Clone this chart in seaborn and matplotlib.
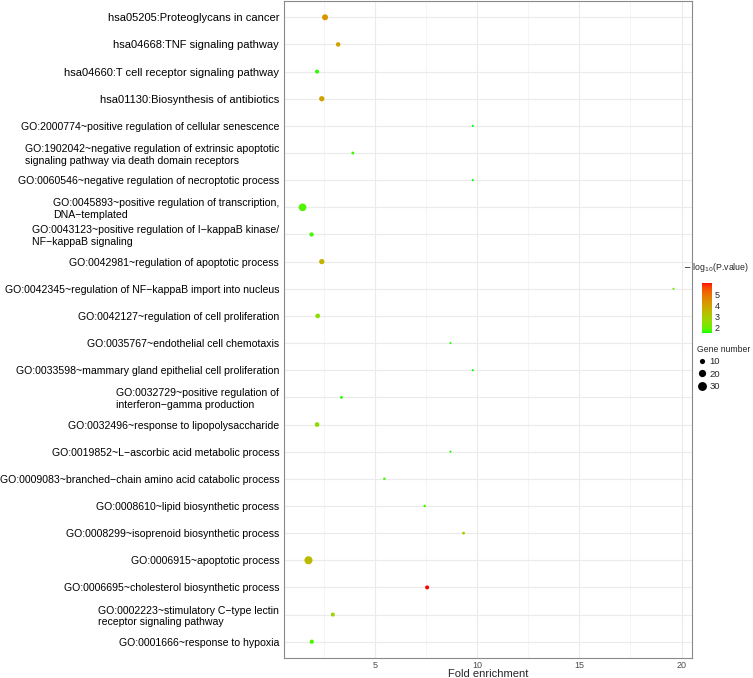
import numpy as np
import pandas as pd
import matplotlib
matplotlib.use("Agg")
import matplotlib.pyplot as plt
import seaborn as sns
from matplotlib.colors import ListedColormap, Normalize
from matplotlib.cm import ScalarMappable
from matplotlib.lines import Line2D

M = "\u2212"
terms = [
    "hsa05205:Proteoglycans in cancer",
    "hsa04668:TNF signaling pathway",
    "hsa04660:T cell receptor signaling pathway",
    "hsa01130:Biosynthesis of antibiotics",
    "GO:2000774~positive regulation of cellular senescence",
    "GO:1902042~negative regulation of extrinsic apoptotic\nsignaling pathway via death domain receptors",
    "GO:0060546~negative regulation of necroptotic process",
    "GO:0045893~positive regulation of transcription,\nDNA" + M + "templated",
    "GO:0043123~positive regulation of I" + M + "kappaB kinase/\nNF" + M + "kappaB signaling",
    "GO:0042981~regulation of apoptotic process",
    "GO:0042345~regulation of NF" + M + "kappaB import into nucleus",
    "GO:0042127~regulation of cell proliferation",
    "GO:0035767~endothelial cell chemotaxis",
    "GO:0033598~mammary gland epithelial cell proliferation",
    "GO:0032729~positive regulation of\ninterferon" + M + "gamma production",
    "GO:0032496~response to lipopolysaccharide",
    "GO:0019852~L" + M + "ascorbic acid metabolic process",
    "GO:0009083~branched" + M + "chain amino acid catabolic process",
    "GO:0008610~lipid biosynthetic process",
    "GO:0008299~isoprenoid biosynthetic process",
    "GO:0006915~apoptotic process",
    "GO:0006695~cholesterol biosynthetic process",
    "GO:0002223~stimulatory C" + M + "type lectin\nreceptor signaling pathway",
    "GO:0001666~response to hypoxia",
]
fold_enrichment = [2.57, 3.21, 2.18, 2.41, 9.79, 3.93, 9.79, 1.47, 1.91, 2.41, 19.6, 2.21,
                   8.70, 9.79, 3.37, 2.18, 8.70, 5.47, 7.44, 9.34, 1.76, 7.56, 2.95, 1.92]
neg_log10_p = [4.3, 4.0, 1.55, 4.0, 1.45, 1.6, 1.45, 1.75, 1.65, 3.6, 2.0, 2.45,
               1.5, 1.45, 1.55, 2.4, 1.5, 1.6, 1.65, 2.9, 3.4, 6.1, 2.7, 1.7]
gene_count = [18, 10, 8, 14, 2, 4, 2, 30, 9, 14, 2, 11,
              2, 2, 4, 11, 2, 3, 3, 4, 33, 8, 8, 9]
size_breaks = [10, 20, 30]
cbar_ticks = [2, 3, 4, 5]

df = pd.DataFrame({"term": terms, "fold": fold_enrichment,
                   "p": neg_log10_p, "count": gene_count})


# green -> red gradient interpolated in Lab space (like ggplot)
def srgb_to_lab(rgb):
    rgb = np.asarray(rgb, float)
    lin = np.where(rgb <= 0.04045, rgb / 12.92, ((rgb + 0.055) / 1.055) ** 2.4)
    mat = np.array([[0.4124, 0.3576, 0.1805], [0.2126, 0.7152, 0.0722], [0.0193, 0.1192, 0.9505]])
    xyz = mat @ lin / np.array([0.95047, 1.0, 1.08883])
    f = np.where(xyz > 0.008856, np.cbrt(xyz), 7.787 * xyz + 16 / 116)
    return np.array([116 * f[1] - 16, 500 * (f[0] - f[1]), 200 * (f[1] - f[2])])


def lab_to_srgb(lab):
    L, a, b = lab
    fy = (L + 16) / 116
    f = np.array([fy + a / 500, fy, fy - b / 200])
    xyz = np.where(f ** 3 > 0.008856, f ** 3, (f - 16 / 116) / 7.787) * np.array([0.95047, 1.0, 1.08883])
    inv = np.array([[3.2406, -1.5372, -0.4986], [-0.9689, 1.8758, 0.0415], [0.0557, -0.2040, 1.0570]])
    lin = np.clip(inv @ xyz, 0, 1)
    return np.clip(np.where(lin <= 0.0031308, 12.92 * lin, 1.055 * lin ** (1 / 2.4) - 0.055), 0, 1)


lo_lab, hi_lab = srgb_to_lab([0, 1, 0]), srgb_to_lab([1, 0, 0])
cmap = ListedColormap([lab_to_srgb(lo_lab + t * (hi_lab - lo_lab)) for t in np.linspace(0, 1, 256)])
norm = Normalize(min(neg_log10_p), max(neg_log10_p))

sns.set_style("white")
plt.rcParams["font.family"] = ["Liberation Sans", "DejaVu Sans"]

fig = plt.figure(figsize=(7.53, 6.78), dpi=100)
ax = fig.add_axes([284 / 753, 20 / 678, 408 / 753, 657 / 678])

size_rng = (2.3, 34)
sns.scatterplot(data=df, x="fold", y="term", hue="p", palette=cmap, hue_norm=norm,
                size="count", sizes=size_rng, linewidth=0, legend=False, ax=ax, zorder=3)

n = len(terms)
ax.set_ylim(n - 1 + 0.6, -0.6)
span = max(fold_enrichment) - min(fold_enrichment)
ax.set_xlim(min(fold_enrichment) - 0.05 * span, max(fold_enrichment) + 0.05 * span)
ax.set_xticks([5, 10, 15, 20])
ax.set_xticks([2.5, 7.5, 12.5, 17.5], minor=True)
ax.set_yticks(range(n), labels=terms)
for lab in ax.get_yticklabels():
    lab.set_multialignment("left")
    lab.set_verticalalignment("center_baseline")
    lab.set_fontsize(8.0 if lab.get_text().startswith("hsa") else 7.6)
    lab.set_color("black")

ax.grid(True, which="major", color="#ebebeb", lw=0.8, zorder=0)
ax.grid(True, which="minor", axis="x", color="#f2f2f2", lw=0.5, zorder=0)
ax.set_axisbelow(True)
for s in ax.spines.values():
    s.set_color("#8a8a8a")
    s.set_linewidth(0.8)
ax.tick_params(axis="y", which="major", length=2, width=0.6, color="#8a8a8a", pad=1.5)
ax.tick_params(axis="x", which="major", length=1.5, width=0.6, color="#8a8a8a", pad=0.5,
               labelsize=6.5, labelcolor="#4d4d4d")
ax.tick_params(axis="x", which="minor", length=0)
ax.set_xlabel("Fold enrichment", fontsize=8, labelpad=-0.8)
ax.set_ylabel("")

# colour bar legend
cax = fig.add_axes([702 / 753, 1 - 333 / 678, 10 / 753, 50 / 678])
cb = fig.colorbar(ScalarMappable(norm=norm, cmap=cmap), cax=cax, ticks=cbar_ticks)
cb.outline.set_visible(False)
cax.tick_params(labelsize=6.5, length=2, color="white", pad=2, direction="in")
fig.text(683 / 753, 1 - 268 / 678, r"$-$ log$_{10}$(P.value)", fontsize=6.3, va="center", ha="left")

# gene number legend
cmin, cmax = min(gene_count), max(gene_count)
handles = []
for v in size_breaks:
    area = size_rng[0] + (v - cmin) / (cmax - cmin) * (size_rng[1] - size_rng[0])
    handles.append(Line2D([], [], ls="", marker="o", color="black", markeredgewidth=0,
                          markersize=np.sqrt(area) * 1.15))
leg = fig.legend(handles, [str(v) for v in size_breaks], title="Gene number", frameon=False,
                 loc="upper left", bbox_to_anchor=(697 / 753, 1 - 345 / 678), fontsize=6.8,
                 title_fontsize=6.2, handlelength=1.0, handletextpad=0.3, labelspacing=0.35,
                 borderaxespad=0, borderpad=0)
leg._legend_box.align = "left"

fig.savefig("out.png", dpi=100)
